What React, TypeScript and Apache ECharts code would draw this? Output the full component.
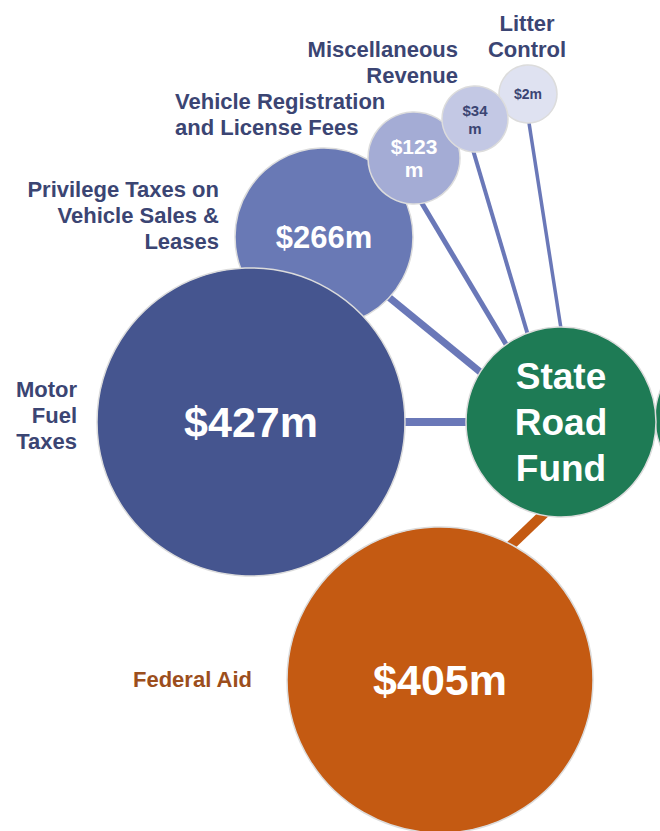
import { useEffect, useRef } from "react";
import * as echarts from "echarts";

// ---- data ----
const categories = [
  "Motor\nFuel\nTaxes",
  "Privilege Taxes on\nVehicle Sales &\nLeases",
  "Vehicle Registration\nand License Fees",
  "Miscellaneous\nRevenue",
  "Litter\nControl",
  "Federal Aid",
];
const values = [427, 266, 123, 34, 2, 405]; // $ millions
const fundLabel = "State\nRoad\nFund";

// ---- layout (positions / sizes / styles) ----
const W = 660;
const H = 831;
const FONT = "'Liberation Sans', Arial, sans-serif";
const NAVY = "#3b4573";

const circleLayout = [
  { cx: 251, cy: 422, r: 154, color: "#45558f", fs: 43, lh: 48, tc: "#ffffff", wrap: false, z: 3 },
  { cx: 324, cy: 237, r: 89, color: "#6979b5", fs: 31, lh: 34, tc: "#ffffff", wrap: false, z: 2 },
  { cx: 414, cy: 158, r: 46, color: "#a4acd5", fs: 21, lh: 23, tc: "#ffffff", wrap: true, z: 5 },
  { cx: 475, cy: 119, r: 33, color: "#c3c8e4", fs: 15, lh: 18, tc: NAVY, wrap: true, z: 7 },
  { cx: 528, cy: 94, r: 29, color: "#dfe2f1", fs: 14, lh: 16, tc: NAVY, wrap: false, z: 6 },
  { cx: 440, cy: 680, r: 153, color: "#c45a12", fs: 43, lh: 48, tc: "#ffffff", wrap: false, z: 4 },
];
const fundLayout = { cx: 561, cy: 422, r: 95, color: "#1e7b55", fs: 37, lh: 46 };
const offscreenFund = { cx: 730, cy: 418, r: 75, color: "#1e7b55" };

const linkLayout = [
  { from: [400, 422], to: [480, 422], w: 8, color: "#6a78b8" },
  { from: [380, 290], to: [490, 380], w: 7, color: "#6a78b8" },
  { from: [414, 190], to: [510, 351], w: 5, color: "#6a78b8" },
  { from: [470, 140], to: [530, 342], w: 4, color: "#6a78b8" },
  { from: [527, 110], to: [562, 335], w: 3.5, color: "#6a78b8" },
  { from: [505, 551], to: [550, 508], w: 10, color: "#c45a12" },
];

const labelLayout = [
  { x: 77, y: 415, align: "right", color: NAVY },
  { x: 219, y: 215, align: "right", color: NAVY },
  { x: 175, y: 114, align: "left", color: NAVY },
  { x: 458, y: 62, align: "right", color: NAVY },
  { x: 527, y: 36, align: "center", color: NAVY },
  { x: 133, y: 679, align: "left", color: "#9c4e1c" },
];

function valueText(v: number, wrap: boolean) {
  return wrap ? `$${v}\nm` : `$${v}m`;
}

export default function App() {
  const ref = useRef<HTMLDivElement>(null);
  useEffect(() => {
    if (!ref.current) return;
    const chart = echarts.init(ref.current, undefined, { renderer: "svg" });

    const circleSeries: any[] = values.map((v, i) => {
      const c = circleLayout[i];
      return {
        type: "scatter",
        name: categories[i].replace(/\n/g, " "),
        silent: true,
        clip: false,
        z: c.z,
        symbol: "circle",
        symbolSize: c.r * 2,
        itemStyle: { color: c.color, borderColor: "#dcdcdc", borderWidth: 1.5, opacity: 1 },
        label: {
          show: true,
          position: "inside",
          formatter: () => valueText(v, c.wrap),
          color: c.tc,
          fontSize: c.fs,
          lineHeight: c.lh,
          fontWeight: "bold",
          fontFamily: FONT,
        },
        data: [[c.cx, c.cy, v]],
      };
    });

    const fundSeries = {
      type: "scatter",
      name: "State Road Fund",
      silent: true,
      clip: false,
      z: 8,
      symbolSize: fundLayout.r * 2,
      itemStyle: { color: fundLayout.color, borderColor: "#dcdcdc", borderWidth: 1.5, opacity: 1 },
      label: {
        show: true,
        position: "inside",
        formatter: () => fundLabel,
        color: "#ffffff",
        fontSize: fundLayout.fs,
        lineHeight: fundLayout.lh,
        fontWeight: "bold",
        fontFamily: FONT,
      },
      data: [[fundLayout.cx, fundLayout.cy]],
    };

    const offSeries = {
      type: "scatter",
      silent: true,
      clip: false,
      z: 7,
      symbolSize: offscreenFund.r * 2,
      itemStyle: { color: offscreenFund.color, borderColor: "#dcdcdc", borderWidth: 1.5, opacity: 1 },
      data: [[offscreenFund.cx, offscreenFund.cy]],
    };

    const linksSeries = {
      type: "lines",
      coordinateSystem: "cartesian2d",
      silent: true,
      z: 1,
      data: linkLayout.map((l) => ({
        coords: [l.from, l.to],
        lineStyle: { width: l.w, color: l.color, opacity: 1 },
      })),
    };

    chart.setOption({
      animation: false,
      backgroundColor: "#ffffff",
      grid: { left: 0, right: 0, top: 0, bottom: 0, containLabel: false },
      xAxis: { type: "value", min: 0, max: W, show: false },
      yAxis: { type: "value", min: 0, max: H, inverse: true, show: false },
      graphic: labelLayout.map((l, i) => ({
        type: "text",
        x: l.x,
        y: l.y,
        z: 20,
        silent: true,
        style: {
          text: categories[i],
          fill: l.color,
          font: `bold 22px ${FONT}`,
          lineHeight: 26,
          align: l.align,
          verticalAlign: "middle",
        },
      })),
      series: [linksSeries, ...circleSeries, offSeries, fundSeries],
    });

    return () => chart.dispose();
  }, []);

  return (
    <div
      ref={ref}
      style={{ position: "fixed", left: 0, top: 0, width: W, height: H, background: "#fff" }}
    />
  );
}
